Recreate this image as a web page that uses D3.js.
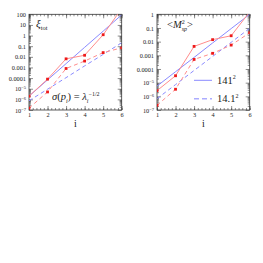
<!DOCTYPE html>
<html>
<head>
<meta charset="utf-8">
<script src="https://cdn.jsdelivr.net/npm/d3@7"></script>
<style>
  body { margin: 0; background: #fff; }
  svg { display: block; }
  .tick text { font-family: "Liberation Serif", "DejaVu Serif", serif; fill: #222; }
  .domain { stroke: none; }
</style>
</head>
<body>
<svg width="263" height="263"></svg>
<script>
var steps = [1, 2, 3, 4, 5, 6];

// left panel: xi_tot
var xiRed141 = [2e-6, 8e-5, 6.5e-3, 1.4e-2, 1.2, 350];
var xiBlue141 = [2e-6, 6.8e-5, 2.3e-3, 7.8e-2, 2.6, 89];
var xiRed14 = [1.5e-7, 5e-6, 8e-4, 4e-3, 2.5e-2, 7e-2];
var xiBlue14 = [7.4e-7, 9e-6, 1.1e-4, 1.4e-3, 1.7e-2, 0.21];
var xiTicks = [100, 10, 1, 0.1, 0.01, 0.001, 0.0001, 1e-5, 1e-6, 1e-7];
var xiLabels = ["100", "10", "1", "0.1", "0.01", "0.001", "0.0001", "10^-5", "10^-6", "10^-7"];

// right panel: <M_sp^2>
var mRed141 = [2.6e-6, 3.2e-5, 4.5e-3, 1.4e-2, 2.7e-2, 1.5];
var mBlue141 = [5.6e-6, 6.3e-5, 7e-4, 8e-3, 9e-2, 1];
var mRed14 = [2.2e-7, 3.3e-6, 5e-4, 1.4e-3, 5.6e-3, 4.5e-2];
var mBlue14 = [6.8e-7, 7.2e-6, 7.8e-5, 8.3e-4, 8.9e-3, 0.095];
var mTicks = [1, 0.1, 0.01, 0.001, 0.0001, 1e-5, 1e-6, 1e-7];
var mLabels = ["1", "0.1", "0.01", "0.001", "0.0001", "10^-5", "10^-6", "10^-7"];

var legendNames = ["141", "14.1"];

var svg = d3.select("svg");
var serif = "'Liberation Serif', 'DejaVu Serif', serif";
var redLine = "#ff8c8c", blueLine = "#8a8aff", marker = "#ee1a1a";

function panel(left, top, w, h, yDomain, ticks, labels, series, id) {
	var g = svg.append("g").attr("transform", "translate(" + left + "," + top + ")");
	var x = d3.scaleLinear().domain([1, 6]).range([0, w]);
	var y = d3.scaleLog().domain(yDomain).range([h, 0]);

	g.append("clipPath").attr("id", id).append("rect").attr("width", w).attr("height", h);

	// minor ticks
	var minors = [];
	ticks.forEach(function (t) {
		for (var k = 2; k <= 9; k++) if (t * k < yDomain[1]) minors.push(t * k);
	});
	var xMinor = d3.range(1, 6.01, 0.2);

	g.append("g").call(d3.axisLeft(y).tickValues(minors).tickSize(-2).tickFormat(""));
	g.append("g").attr("transform", "translate(" + w + ",0)")
		.call(d3.axisRight(y).tickValues(minors).tickSize(-2).tickFormat(""));
	g.append("g").attr("transform", "translate(0," + h + ")")
		.call(d3.axisBottom(x).tickValues(xMinor).tickSize(-2).tickFormat(""));
	g.append("g").call(d3.axisTop(x).tickValues(xMinor).tickSize(-2).tickFormat(""));

	// major ticks
	var yl = g.append("g").call(d3.axisLeft(y).tickValues(ticks).tickSize(-4).tickPadding(3)
		.tickFormat(function (d, i) { return labels[i]; }));
	yl.selectAll(".tick text").attr("font-size", 6.3).each(function () {
		var t = d3.select(this), s = t.text();
		if (s.indexOf("^") > 0) {
			var p = s.split("^");
			t.text(p[0]);
			t.append("tspan").attr("dy", "-0.45em").attr("font-size", 4.5).text("\u2212" + p[1].slice(1));
		}
	});
	g.append("g").attr("transform", "translate(" + w + ",0)")
		.call(d3.axisRight(y).tickValues(ticks).tickSize(-4).tickFormat(""));
	g.append("g").attr("transform", "translate(0," + h + ")")
		.call(d3.axisBottom(x).tickValues(steps).tickSize(-4).tickPadding(3).tickFormat(d3.format("d")))
		.selectAll(".tick text").attr("font-size", 6.3);
	g.append("g").call(d3.axisTop(x).tickValues(steps).tickSize(-4).tickFormat(""));
	g.selectAll(".tick line").attr("stroke", "#444").attr("stroke-width", 0.6);

	g.append("rect").attr("width", w).attr("height", h)
		.attr("fill", "none").attr("stroke", "#333").attr("stroke-width", 0.8);

	g.append("text").attr("x", w / 2).attr("y", h + 17).attr("fill", "#222")
		.attr("text-anchor", "middle").attr("font-family", serif).attr("font-size", 10).text("i");

	var line = d3.line().x(function (d, i) { return x(steps[i]); }).y(function (d) { return y(d); });
	var lines = g.append("g").attr("clip-path", "url(#" + id + ")");
	series.forEach(function (s) {
		lines.append("path").datum(s.values).attr("d", line)
			.attr("fill", "none").attr("stroke", s.color).attr("stroke-width", 1)
			.attr("stroke-dasharray", s.dashed ? "4,3" : null);
	});
	series.filter(function (s) { return s.marks; }).forEach(function (s) {
		lines.selectAll(null).data(s.values).enter().append("rect")
			.attr("x", function (d, i) { return x(steps[i]) - 1.4; })
			.attr("y", function (d) { return y(d) - 1.4; })
			.attr("width", 2.8).attr("height", 2.8).attr("fill", marker);
	});
	return { g: g, x: x, y: y };
}

var pL = panel(29, 14.3, 92.7, 95.7, [1e-7, 100], xiTicks, xiLabels, [
	{ values: xiBlue14, color: blueLine, dashed: true },
	{ values: xiRed14, color: redLine, dashed: true, marks: true },
	{ values: xiBlue141, color: blueLine },
	{ values: xiRed141, color: redLine, marks: true }
], "clipL");

var pR = panel(157, 14.3, 92.7, 95.7, [1e-7, 1], mTicks, mLabels, [
	{ values: mBlue14, color: blueLine, dashed: true },
	{ values: mRed14, color: redLine, dashed: true, marks: true },
	{ values: mBlue141, color: blueLine },
	{ values: mRed141, color: redLine, marks: true }
], "clipR");

// annotations
var xi = pL.g.append("text").attr("x", 7).attr("y", 13).attr("font-family", serif).attr("font-size", 11)
	.attr("font-style", "italic").attr("fill", "#222");
xi.append("tspan").text("\u03be");
xi.append("tspan").attr("dy", 2.5).attr("font-size", 6.5).attr("font-style", "normal").text("tot");

var sig = pL.g.append("text").attr("x", 23).attr("y", 86).attr("font-family", serif).attr("font-size", 10.5)
	.attr("fill", "#222");
sig.append("tspan").attr("font-style", "italic").text("\u03c3");
sig.append("tspan").text("(");
sig.append("tspan").attr("font-style", "italic").text("p");
sig.append("tspan").attr("dy", 2.5).attr("font-size", 6).attr("font-style", "italic").text("i");
sig.append("tspan").attr("dy", -2.5).text(")  =  ");
sig.append("tspan").attr("font-style", "italic").text("\u03bb");
sig.append("tspan").attr("dy", 2.5).attr("font-size", 6).attr("font-style", "italic").text("i");
sig.append("tspan").attr("dy", -7).attr("font-size", 6).text("\u22121/2");

var msp = pR.g.append("text").attr("x", 10).attr("y", 14).attr("font-family", serif).attr("font-size", 10.5)
	.attr("fill", "#222");
msp.append("tspan").text("<");
msp.append("tspan").attr("font-style", "italic").text("M");
msp.append("tspan").attr("dy", -4).attr("font-size", 6).text("2");
msp.append("tspan").attr("dx", -3).attr("dy", 6.5).attr("font-size", 6).attr("font-style", "italic").text("sp");
msp.append("tspan").attr("dy", -2.5).text(">");

// legend
legendNames.forEach(function (name, i) {
	var ly = 66 + i * 18.5;
	pR.g.append("line").attr("x1", 37).attr("x2", 55).attr("y1", ly).attr("y2", ly)
		.attr("stroke", blueLine).attr("stroke-width", i ? 1.6 : 1)
		.attr("stroke-dasharray", i ? "5,3" : null).attr("opacity", i ? 0.7 : 1);
	var t = pR.g.append("text").attr("x", 60).attr("y", ly + 3.5).attr("fill", "#222")
		.attr("font-family", serif).attr("font-size", 10.5).text(name);
	t.append("tspan").attr("dy", -4.5).attr("font-size", 6).text("2");
});
</script>
</body>
</html>
